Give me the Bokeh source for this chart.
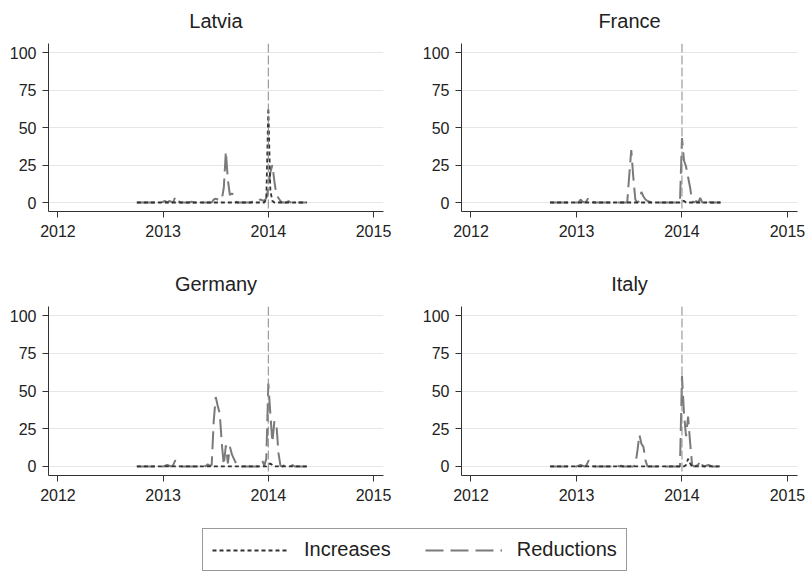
from bokeh.plotting import figure
from bokeh.models import Span, FixedTicker, Legend, LegendItem, Range1d
from bokeh.layouts import column, row
from bokeh.embed import file_html
from bokeh.resources import INLINE

# weekly observations, Oct 2012 - May 2014 (decimal years)
weeks = [2012.75 + k / 52 for k in range(85)]

countries = ["Latvia", "France", "Germany", "Italy"]

LV_inc = [0]*64 + [2, 63, 8, 1] + [0]*17
LV_red = [0, 0, 0, 0, 0, 0, 0, 0, 0, 0,
          0, 0, 0, 0.5, 1, 0, 1, 0.5, 0, 4,
          1.5, 0.5, 0, 0, 0, 0, 0, 0.5, 0, 0,
          1, 0.5, 0, 0, 0, 0, 0, 0, 2, 2.5,
          2, 1.5, 2, 10, 34, 15, 5, 6, 5, 0.5,
          0, 0, 0, 0, 0, 0, 0, 0.5, 1, 0.5,
          1, 2, 1.5, 1, 3, 10, 20, 25, 14, 5,
          3, 1, 0, 0, 0, 1, 0, 0.5, 1, 0,
          0, 0, 0, 0, 0]

FR_inc = [0]*65 + [1, 1] + [0]*18
FR_red = [0, 0, 0, 0, 0, 0, 0, 0, 0, 0,
          0, 0, 0, 0, 0, 2, 0.5, 0, 1, 3.5,
          2, 0.5, 0, 0, 0, 0, 0, 0, 0, 0,
          0, 0, 0, 0, 0, 0, 0, 0, 0, 18,
          35, 17, 2, 0, 1, 7, 4, 2, 1, 0.5,
          0, 0, 0, 0, 0, 0, 0, 0, 0, 0,
          0, 0, 0, 0, 0, 43, 28, 24, 17, 10,
          1, 0, 1, 0, 3, 0, 0, 1.5, 0.5, 0,
          0, 0, 0, 0, 0]

DE_inc = [0]*65 + [1, 2, 1] + [0]*17
DE_red = [0, 0, 0, 0, 0, 0, 0, 0, 0, 0,
          0, 0, 0, 0, 0.5, 1, 0.5, 0, 1, 4,
          2.5, 1, 0, 0, 0, 0, 0, 0, 0, 0,
          0, 0.5, 0, 1, 0, 1.5, 0.5, 1, 30, 46,
          40, 35, 15, 1, 14, 2, 13, 8, 5, 2,
          0, 0, 0, 0, 0, 0, 0, 0, 0, 0,
          0, 1, 4, 0.5, 5, 55, 35, 16, 30, 28,
          9, 0.5, 0, 1, 0, 0.5, 0, 1, 0, 0,
          0, 0, 0, 0, 0]

IT_inc = [0]*67 + [1, 5, 2] + [0]*15
IT_red = [0, 0, 0, 0, 0, 0, 0, 0, 0, 0,
          0, 0, 0, 0, 0.5, 1, 0.5, 0, 1, 4,
          2, 0.5, 0, 0, 0, 0, 0, 0, 0, 0,
          0, 0, 0, 1, 0, 0.5, 0, 0, 0, 0,
          0, 0, 1, 10, 21, 15, 13, 4, 0, 0,
          0, 0, 0, 0, 0, 0, 0, 0, 0, 0,
          0, 0, 0, 0, 0, 60, 35, 20, 33, 16,
          1, 0, 0.5, 1, 4, 1, 0, 0.5, 1, 0.5,
          0, 0, 0, 0, 0]

x_ticks = [2012, 2013, 2014, 2015]
y_ticks = [0, 25, 50, 75, 100]
event_date = 2014

FONT = "Liberation Sans"
INC_COLOR = "#333333"
RED_COLOR = "#7a7a7a"
INC_DASH = "4 3"
RED_DASH = "18 7"


def panel(title, inc, red, width, height, left, right, bottom):
    p = figure(width=width, height=height, title=title,
               x_range=Range1d(2011.91, 2015.095), y_range=Range1d(-6, 106),
               output_backend="svg", toolbar_location=None,
               min_border_left=left, min_border_right=right,
               min_border_top=42, min_border_bottom=bottom)
    p.title.align = "center"
    p.title.vertical_align = "top"
    p.title.text_font = FONT
    p.title.text_font_size = "20px"
    p.title.text_font_style = "normal"
    p.title.text_color = "#222222"
    p.title.standoff = 19
    p.outline_line_color = None
    p.background_fill_color = "white"
    p.xgrid.visible = False
    p.ygrid.grid_line_color = "#e6e6e6"
    p.ygrid.grid_line_width = 1.2
    p.xaxis.ticker = FixedTicker(ticks=x_ticks)
    p.yaxis.ticker = FixedTicker(ticks=y_ticks)
    for ax in (p.xaxis, p.yaxis):
        ax.axis_line_color = "#333333"
        ax.major_tick_line_color = "#333333"
        ax.major_tick_out = 6
        ax.major_tick_in = 0
        ax.minor_tick_line_color = None
        ax.major_label_text_font = FONT
        ax.major_label_text_font_size = "16px"
        ax.major_label_text_color = "#222222"
    p.xaxis.major_label_standoff = 7
    p.yaxis.major_label_standoff = 6
    p.add_layout(Span(location=event_date, dimension="height",
                      line_color="#888888", line_dash="9 3", line_width=1))
    p.line(weeks, red, line_color=RED_COLOR, line_width=2, line_dash=RED_DASH)
    p.line(weeks, inc, line_color=INC_COLOR, line_width=1.8, line_dash=INC_DASH)
    return p


H1, H2 = 263, 259
p1 = panel(countries[0], LV_inc, LV_red, 413, H1, 48, 30, H1 - 42 - 169)
p2 = panel(countries[1], FR_inc, FR_red, 393, H1, 48, 9, H1 - 42 - 169)
p3 = panel(countries[2], DE_inc, DE_red, 413, H2, 48, 30, H2 - 42 - 170)
p4 = panel(countries[3], IT_inc, IT_red, 393, H2, 48, 9, H2 - 42 - 170)

lf = figure(width=806, height=50, x_range=Range1d(0, 1), y_range=Range1d(0, 1),
            output_backend="svg", toolbar_location=None,
            x_axis_location=None, y_axis_location=None, min_border=0)
lf.outline_line_color = None
lf.grid.visible = False
r1 = lf.line([5, 6], [5, 5], line_color=INC_COLOR, line_width=1.8, line_dash=INC_DASH)
r2 = lf.line([5, 6], [5, 5], line_color=RED_COLOR, line_width=2, line_dash=RED_DASH)
leg = Legend(items=[LegendItem(label="Increases", renderers=[r1]),
                    LegendItem(label="Reductions", renderers=[r2])],
             orientation="horizontal", location=(202, 1),
             glyph_width=77, glyph_height=20, label_standoff=15, spacing=34,
             padding=9, margin=0,
             label_text_font=FONT, label_text_font_size="20px",
             label_text_color="#222222",
             border_line_color="#333333", border_line_width=1,
             background_fill_alpha=1)
lf.add_layout(leg)

layout = column(row(p1, p2), row(p3, p4), lf)
open("out.html", "w").write(file_html(layout, INLINE))
